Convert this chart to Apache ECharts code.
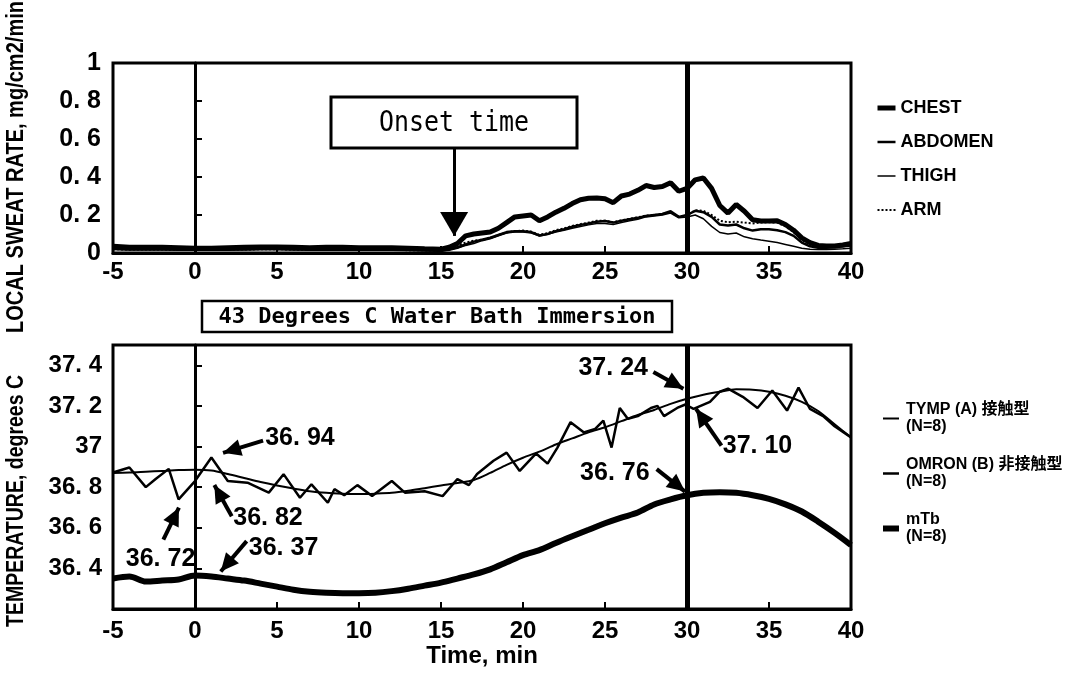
<!DOCTYPE html>
<html>
<head>
<meta charset="utf-8">
<title>Local sweat rate and temperature</title>
<script src="https://cdn.jsdelivr.net/npm/echarts@6/dist/echarts.min.js"></script>
<style>
  html, body { margin: 0; padding: 0; background: #fff; }
  #chart { width: 1085px; height: 679px; }
</style>
</head>
<body>
<div id="chart"></div>
<script>
// ---- top panel: local sweat rate (mg/cm2/min) ----
const sweatTime = [-5, -4, -3, -2, -1, 0, 1, 2, 3, 4, 5, 6, 7, 8, 9, 10, 11, 12, 13, 14,
  15, 15.5, 16, 16.5, 17, 17.5, 18, 18.5, 19, 19.5, 20, 20.5, 21, 21.5, 22, 22.5, 23, 23.5,
  24, 24.5, 25, 25.5, 26, 26.5, 27, 27.5, 28, 28.5, 29, 29.5, 30, 30.5, 31, 31.5, 32, 32.5,
  33, 33.5, 34, 34.5, 35, 35.5, 36, 36.5, 37, 37.5, 38, 38.5, 39, 39.5, 40];

const chest = [0.035, 0.03, 0.03, 0.03, 0.028, 0.025, 0.025, 0.028, 0.03, 0.032, 0.032, 0.03, 0.028, 0.03, 0.03, 0.028, 0.028, 0.027, 0.025, 0.022,
  0.02, 0.03, 0.05, 0.09, 0.10, 0.105, 0.11, 0.13, 0.16, 0.19, 0.195, 0.20, 0.17, 0.19, 0.215, 0.235, 0.26, 0.28,
  0.288, 0.29, 0.285, 0.265, 0.30, 0.31, 0.33, 0.355, 0.345, 0.35, 0.37, 0.325, 0.34, 0.385, 0.395, 0.34, 0.25, 0.21,
  0.255, 0.22, 0.175, 0.168, 0.168, 0.17, 0.15, 0.12, 0.08, 0.055, 0.04, 0.037, 0.037, 0.042, 0.05];
const abdomen = [0.022, 0.02, 0.02, 0.02, 0.02, 0.018, 0.018, 0.02, 0.02, 0.022, 0.022, 0.02, 0.02, 0.02, 0.02, 0.02, 0.018, 0.018, 0.017, 0.015,
  0.012, 0.02, 0.03, 0.045, 0.06, 0.07, 0.08, 0.095, 0.11, 0.115, 0.115, 0.11, 0.092, 0.10, 0.115, 0.125, 0.138, 0.148,
  0.155, 0.165, 0.168, 0.16, 0.17, 0.178, 0.185, 0.195, 0.2, 0.205, 0.22, 0.19, 0.2, 0.222, 0.215, 0.19, 0.15, 0.145,
  0.15, 0.13, 0.118, 0.125, 0.125, 0.12, 0.11, 0.09, 0.055, 0.035, 0.028, 0.027, 0.03, 0.035, 0.04];
const thigh = [0.018, 0.016, 0.016, 0.016, 0.015, 0.014, 0.014, 0.015, 0.016, 0.017, 0.017, 0.016, 0.015, 0.015, 0.015, 0.015, 0.014, 0.014, 0.013, 0.012,
  0.01, 0.015, 0.025, 0.04, 0.05, 0.065, 0.075, 0.09, 0.105, 0.11, 0.11, 0.105, 0.09, 0.098, 0.11, 0.12, 0.13, 0.14,
  0.148, 0.155, 0.155, 0.15, 0.16, 0.17, 0.178, 0.19, 0.195, 0.2, 0.21, 0.185, 0.19, 0.2, 0.18, 0.14, 0.108, 0.1,
  0.105, 0.085, 0.075, 0.068, 0.062, 0.055, 0.045, 0.035, 0.025, 0.02, 0.018, 0.018, 0.02, 0.022, 0.025];
const arm = [0.02, 0.018, 0.018, 0.018, 0.017, 0.016, 0.016, 0.018, 0.018, 0.02, 0.02, 0.018, 0.017, 0.017, 0.017, 0.017, 0.016, 0.016, 0.015, 0.014,
  0.012, 0.02, 0.04, 0.055, 0.065, 0.07, 0.08, 0.095, 0.108, 0.115, 0.118, 0.112, 0.095, 0.105, 0.12, 0.13, 0.142, 0.152,
  0.16, 0.17, 0.17, 0.162, 0.172, 0.18, 0.188, 0.197, 0.2, 0.205, 0.215, 0.19, 0.2, 0.225, 0.222, 0.2, 0.17, 0.162,
  0.165, 0.16, 0.155, 0.16, 0.162, 0.16, 0.14, 0.11, 0.07, 0.045, 0.035, 0.032, 0.033, 0.036, 0.04];

// ---- bottom panel: temperature (degrees C) ----
const tempTime = [-5, -4, -3, -2, -1, 0, 1, 2, 3, 4, 5, 6, 7, 8, 9, 10, 11, 12, 13, 14, 15, 16, 17,
  18, 19, 20, 21, 22, 23, 24, 25, 26, 27, 28, 29, 30, 31, 32, 33, 34, 35, 36, 37, 38, 39, 40];
const tympTemp = [36.87, 36.872, 36.876, 36.88, 36.884, 36.886, 36.882, 36.865, 36.845, 36.825, 36.808, 36.793,
  36.78, 36.772, 36.768, 36.766, 36.768, 36.772, 36.782, 36.795, 36.808, 36.82, 36.835, 36.87, 36.91, 36.945,
  36.975, 37.01, 37.04, 37.07, 37.095, 37.125, 37.155, 37.18, 37.21, 37.235, 37.255, 37.27, 37.282, 37.28,
  37.27, 37.25, 37.22, 37.175, 37.11, 37.045];
const mtbTemp = [36.35, 36.36, 36.335, 36.34, 36.345, 36.365, 36.36, 36.35, 36.34, 36.325, 36.31, 36.295,
  36.285, 36.28, 36.278, 36.278, 36.28, 36.288, 36.3, 36.315, 36.33, 36.35, 36.37, 36.395, 36.43, 36.465,
  36.49, 36.525, 36.558, 36.59, 36.622, 36.65, 36.675, 36.715, 36.74, 36.76, 36.772, 36.775, 36.772, 36.76,
  36.742, 36.715, 36.68, 36.63, 36.575, 36.515];
// the zigzag one is read at its own corners
const omronTime = [-5, -4, -3, -2.4, -1.6, -1, 0, 1, 2, 3.2, 4.5, 5.4, 6.4, 7.1, 8.1, 8.5, 9.1, 9.9, 10.8,
  12, 12.8, 14, 15.1, 16, 16.7, 17.2, 18.2, 19, 19.8, 20.8, 21.5, 22.1, 22.9, 23.7, 24.4, 24.9, 25.4, 25.9,
  26.4, 27, 27.8, 28.2, 28.6, 29.4, 29.9, 30.4, 31.4, 32, 32.5, 33.4, 34.3, 35.2, 36.1, 36.8, 37.5, 38.3, 39, 40];
const omronTemp = [36.872, 36.897, 36.80, 36.84, 36.89, 36.74, 36.83, 36.946, 36.83, 36.822, 36.773, 36.864,
  36.748, 36.814, 36.723, 36.79, 36.76, 36.81, 36.756, 36.83, 36.773, 36.78, 36.756, 36.84, 36.81, 36.865,
  36.93, 36.97, 36.88, 36.966, 36.916, 36.995, 37.12, 37.07, 37.087, 37.128, 36.995, 37.19, 37.136, 37.15,
  37.19, 37.20, 37.15, 37.19, 37.207, 37.185, 37.22, 37.27, 37.285, 37.245, 37.19, 37.276, 37.177, 37.29,
  37.185, 37.15, 37.10, 37.045];

// callouts: label text, where the text sits, arrow start, arrow tip
const calloutText = ['36. 94', '36. 72', '36. 82', '36. 37', '37. 24', '37. 10', '36. 76'];
const calloutAt = [[6.4, 37.04], [-2.1, 36.445], [4.45, 36.648], [5.4, 36.5], [25.5, 37.385], [34.3, 37.004], [25.6, 36.87]];
const calloutFrom = [[4.15, 37.029], [-1.93, 36.542], [2.24, 36.657], [3.15, 36.534], [27.95, 37.367], [32.1, 37.004], [28.15, 36.889]];
const calloutTo = [[1.71, 36.969], [-0.98, 36.699], [1.18, 36.811], [1.57, 36.385], [29.78, 37.285], [30.55, 37.186], [29.88, 36.778]];

const SANS = '"Liberation Sans", Arial, "Noto Sans CJK JP", sans-serif';
const MONO = '"DejaVu Sans Mono", "Liberation Mono", monospace';

function pairs(xs, ys) {
  return xs.map((x, i) => [x, ys[i]]);
}
// "0.8" -> "0. 8", the old plot puts a gap after the point
function gapLabel(v) {
  const s = String(Math.round(v * 10) / 10);
  return s.replace('.', '. ');
}

// no condensed font here, so squeeze free text to the length it has in the plot
const measureCtx = document.createElement('canvas').getContext('2d');
function squeeze(text, font, length) {
  measureCtx.font = font;
  return length / measureCtx.measureText(text).width;
}

const myChart = echarts.init(document.getElementById('chart'));

const tickLabel = { fontFamily: SANS, fontWeight: 'bold', fontSize: 24, color: '#000' };
const axisLine = { show: true, lineStyle: { color: '#000', width: 3 } };
const axisTick = { show: true, inside: true, length: 7, lineStyle: { color: '#000', width: 2 } };

const vLines = {
  silent: true,
  symbol: 'none',
  label: { show: false },
  data: [
    { xAxis: 0, lineStyle: { color: '#000', width: 2, type: 'solid' } },
    { xAxis: 30, lineStyle: { color: '#000', width: 5, type: 'solid' } }
  ]
};

const titleFont = 'bold 23px ' + SANS;
const topTitle = 'LOCAL SWEAT RATE, mg/cm2/min';
const bottomTitle = 'TEMPERATURE, degrees C';
const onsetFont = '29px ' + MONO;

const option = {
  animation: false,
  backgroundColor: '#fff',
  grid: [
    { left: 113, right: 234, top: 63, height: 190, show: true, borderColor: '#000', borderWidth: 3 },
    { left: 113, right: 234, top: 345, height: 264, show: true, borderColor: '#000', borderWidth: 3 }
  ],
  xAxis: [
    {
      gridIndex: 0, type: 'value', min: -5, max: 40, interval: 5,
      axisLine, axisTick, splitLine: { show: false },
      axisLabel: { ...tickLabel, margin: 7 }
    },
    {
      gridIndex: 1, type: 'value', min: -5, max: 40, interval: 5,
      axisLine, axisTick, splitLine: { show: false },
      axisLabel: { ...tickLabel, margin: 10 },
      name: 'Time, min', nameLocation: 'middle', nameGap: 24,
      nameTextStyle: { fontFamily: SANS, fontWeight: 'bold', fontSize: 24, color: '#000' }
    }
  ],
  yAxis: [
    {
      gridIndex: 0, type: 'value', min: 0, max: 1, interval: 0.2,
      axisLine, axisTick, splitLine: { show: false },
      axisLabel: { ...tickLabel, fontSize: 25, margin: 12, formatter: v => gapLabel(v) }
    },
    {
      gridIndex: 1, type: 'value', min: 36.2, max: 37.5, interval: 0.2,
      axisLine, axisTick, splitLine: { show: false },
      axisLabel: {
        ...tickLabel, margin: 11,
        formatter: v => {
          const r = Math.round(v * 10) / 10;
          if (r < 36.3 || Math.abs(v - 37.5) < 0.01) return '';
          return gapLabel(r);
        }
      }
    }
  ],
  legend: [
    {
      data: ['CHEST', 'ABDOMEN', 'THIGH', 'ARM'],
      orient: 'vertical', left: 870, top: 92,
      itemWidth: 18, itemHeight: 12, itemGap: 12,
      selectedMode: false,
      itemStyle: { opacity: 0 },
      lineStyle: { width: 'inherit' },
      textStyle: { fontFamily: SANS, fontWeight: 'bold', fontSize: 18, lineHeight: 22, color: '#000', padding: [0, 0, 0, 0] }
    },
    {
      data: ['TYMP', 'OMRON', 'mTb'],
      orient: 'vertical', left: 875, top: 388,
      itemWidth: 16, itemHeight: 12, itemGap: 4,
      selectedMode: false,
      itemStyle: { opacity: 0 },
      lineStyle: { width: 'inherit' },
      formatter: name => {
        const full = { TYMP: 'TYMP (A) 接触型', OMRON: 'OMRON (B) 非接触型', mTb: 'mTb' };
        return full[name] + '\n(N=8)';
      },
      textStyle: { fontFamily: SANS, fontWeight: 'bold', fontSize: 16, lineHeight: 17, color: '#000', padding: [17, 0, 0, 2] }
    }
  ],
  graphic: [
    {
      type: 'text', x: 17, y: 167, rotation: Math.PI / 2, z: 50,
      scaleX: squeeze(topTitle, titleFont, 332),
      style: { text: topTitle, font: titleFont, fill: '#000', align: 'center', verticalAlign: 'middle' }
    },
    {
      type: 'text', x: 17, y: 501, rotation: Math.PI / 2, z: 50,
      scaleX: squeeze(bottomTitle, titleFont, 252),
      style: { text: bottomTitle, font: titleFont, fill: '#000', align: 'center', verticalAlign: 'middle' }
    },
    {
      type: 'rect', z: 50,
      shape: { x: 331, y: 97, width: 246, height: 51 },
      style: { fill: '#fff', stroke: '#000', lineWidth: 3 }
    },
    {
      type: 'text', x: 454, y: 123, z: 51,
      scaleX: squeeze('Onset time', onsetFont, 150),
      style: { text: 'Onset time', font: onsetFont, fill: '#000', align: 'center', verticalAlign: 'middle' }
    },
    {
      type: 'rect', z: 50,
      shape: { x: 202, y: 301, width: 470, height: 31 },
      style: { fill: '#fff', stroke: '#000', lineWidth: 2.5 }
    },
    {
      type: 'text', x: 437, y: 317, z: 51,
      style: { text: '43 Degrees C Water Bath Immersion', font: 'bold 22px ' + MONO, fill: '#000', align: 'center', verticalAlign: 'middle' }
    }
  ],
  series: [
    {
      name: 'CHEST', type: 'line', xAxisIndex: 0, yAxisIndex: 0,
      data: pairs(sweatTime, chest), symbol: 'none',
      lineStyle: { color: '#000', width: 5 }, itemStyle: { color: '#000' },
      markLine: vLines
    },
    {
      name: 'ABDOMEN', type: 'line', xAxisIndex: 0, yAxisIndex: 0,
      data: pairs(sweatTime, abdomen), symbol: 'none',
      lineStyle: { color: '#000', width: 2.5 }, itemStyle: { color: '#000' }
    },
    {
      name: 'THIGH', type: 'line', xAxisIndex: 0, yAxisIndex: 0,
      data: pairs(sweatTime, thigh), symbol: 'none',
      lineStyle: { color: '#000', width: 1.5 }, itemStyle: { color: '#000' }
    },
    {
      name: 'ARM', type: 'line', xAxisIndex: 0, yAxisIndex: 0,
      data: pairs(sweatTime, arm), symbol: 'none',
      lineStyle: { color: '#000', width: 2, type: 'dotted' }, itemStyle: { color: '#000' },
      // onset arrow
      markLine: {
        silent: true,
        symbol: ['none', 'triangle'],
        symbolSize: [28, 24],
        symbolOffset: [0, [0, '50%']],
        label: { show: false },
        lineStyle: { color: '#000', width: 3, type: 'solid' },
        data: [[{ coord: [15.8, 0.553] }, { coord: [15.8, 0.09] }]]
      }
    },
    {
      name: 'TYMP', type: 'line', xAxisIndex: 1, yAxisIndex: 1,
      data: pairs(tempTime, tympTemp), symbol: 'none', smooth: 0.3,
      lineStyle: { color: '#000', width: 2 }, itemStyle: { color: '#000' },
      markLine: vLines
    },
    {
      name: 'OMRON', type: 'line', xAxisIndex: 1, yAxisIndex: 1,
      data: pairs(omronTime, omronTemp), symbol: 'none',
      lineStyle: { color: '#000', width: 2.5 }, itemStyle: { color: '#000' }
    },
    {
      name: 'mTb', type: 'line', xAxisIndex: 1, yAxisIndex: 1,
      data: pairs(tempTime, mtbTemp), symbol: 'none', smooth: 0.3,
      lineStyle: { color: '#000', width: 6 }, itemStyle: { color: '#000' },
      markLine: {
        silent: true,
        symbol: ['none', 'triangle'],
        symbolSize: [17, 18],
        symbolOffset: [0, [0, '50%']],
        label: { show: false },
        lineStyle: { color: '#000', width: 4, type: 'solid' },
        data: calloutFrom.map((p, i) => [{ coord: p }, { coord: calloutTo[i] }])
      },
      markPoint: {
        silent: true,
        symbol: 'rect', symbolSize: 1,
        itemStyle: { color: 'rgba(0,0,0,0)' },
        label: {
          show: true, position: 'inside', formatter: '{b}',
          fontFamily: SANS, fontWeight: 'bold', fontSize: 25, color: '#000'
        },
        data: calloutText.map((t, i) => ({ name: t, coord: calloutAt[i] }))
      }
    }
  ]
};

myChart.setOption(option);
</script>
</body>
</html>
